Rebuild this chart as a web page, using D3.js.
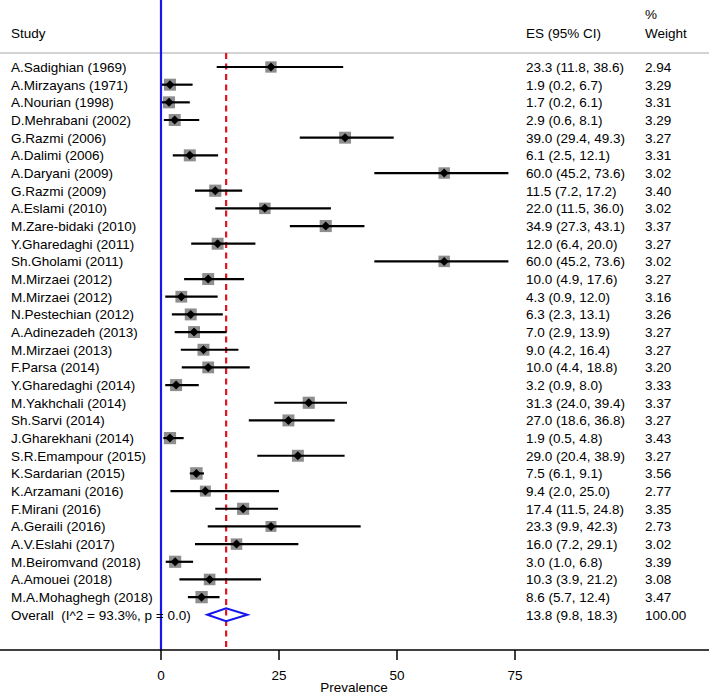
<!DOCTYPE html>
<html><head><meta charset="utf-8">
<script src="https://cdn.jsdelivr.net/npm/d3@7"></script>
<style>body{margin:0;background:#fff}svg{display:block}text{font-family:"Liberation Sans",Arial,sans-serif;font-size:13.5px;fill:#000}</style>
</head><body><svg id="c" width="709" height="695"></svg>
<script>
const studies = ["A.Sadighian (1969)","A.Mirzayans (1971)","A.Nourian (1998)","D.Mehrabani (2002)","G.Razmi (2006)","A.Dalimi (2006)","A.Daryani (2009)","G.Razmi (2009)","A.Eslami (2010)","M.Zare-bidaki (2010)","Y.Gharedaghi (2011)","Sh.Gholami (2011)","M.Mirzaei (2012)","M.Mirzaei (2012)","N.Pestechian (2012)","A.Adinezadeh (2013)","M.Mirzaei (2013)","F.Parsa (2014)","Y.Gharedaghi (2014)","M.Yakhchali (2014)","Sh.Sarvi (2014)","J.Gharekhani (2014)","S.R.Emampour (2015)","K.Sardarian (2015)","K.Arzamani (2016)","F.Mirani (2016)","A.Geraili (2016)","A.V.Eslahi (2017)","M.Beiromvand (2018)","A.Amouei (2018)","M.A.Mohaghegh (2018)"];
const es = [23.3,1.9,1.7,2.9,39.0,6.1,60.0,11.5,22.0,34.9,12.0,60.0,10.0,4.3,6.3,7.0,9.0,10.0,3.2,31.3,27.0,1.9,29.0,7.5,9.4,17.4,23.3,16.0,3.0,10.3,8.6];
const lo = [11.8,0.2,0.2,0.6,29.4,2.5,45.2,7.2,11.5,27.3,6.4,45.2,4.9,0.9,2.3,2.9,4.2,4.4,0.9,24.0,18.6,0.5,20.4,6.1,2.0,11.5,9.9,7.2,1.0,3.9,5.7];
const hi = [38.6,6.7,6.1,8.1,49.3,12.1,73.6,17.2,36.0,43.1,20.0,73.6,17.6,12.0,13.1,13.9,16.4,18.8,8.0,39.4,36.8,4.8,38.9,9.1,25.0,24.8,42.3,29.1,6.8,21.2,12.4];
const weights = ["2.94","3.29","3.31","3.29","3.27","3.31","3.02","3.40","3.02","3.37","3.27","3.02","3.27","3.16","3.26","3.27","3.27","3.20","3.33","3.37","3.27","3.43","3.27","3.56","2.77","3.35","2.73","3.02","3.39","3.08","3.47"];
const overallLabel = "Overall  (I^2 = 93.3%, p = 0.0)";
const overall = {es:13.8, lo:9.8, hi:18.3, w:"100.00"};
const xTicks = [0,25,50,75];

const svg = d3.select("#c");
const x = d3.scaleLinear().domain([0,75]).range([161,515]);
const y = d3.scaleLinear().domain([0,31]).range([67,614.8]);
const fmt = d3.format(".1f");

// header
svg.append("text").attr("x",11).attr("y",38).text("Study");
svg.append("text").attr("x",526).attr("y",38).text("ES (95% CI)");
svg.append("text").attr("x",645).attr("y",19).text("%");
svg.append("text").attr("x",645).attr("y",38).text("Weight");
svg.append("line").attr("x1",0).attr("x2",709).attr("y1",53).attr("y2",53).attr("stroke","#c4c4c4").attr("stroke-width",1.5);

// no-effect line
svg.append("line").attr("x1",x(0)).attr("x2",x(0)).attr("y1",0).attr("y2",650).attr("stroke","#1515ee").attr("stroke-width",2.2);
// overall dashed line
svg.append("line").attr("x1",x(overall.es)).attr("x2",x(overall.es)).attr("y1",53).attr("y2",650)
  .attr("stroke","#e0141e").attr("stroke-width",2.2).attr("stroke-dasharray","6,4.5");

const g = svg.append("g");
studies.forEach((s,i)=>{
  const yy = y(i);
  g.append("text").attr("x",11).attr("y",yy).attr("dy","0.36em").text(s);
  g.append("text").attr("x",526).attr("y",yy).attr("dy","0.36em").text(`${fmt(es[i])} (${fmt(lo[i])}, ${fmt(hi[i])})`);
  g.append("text").attr("x",645).attr("y",yy).attr("dy","0.36em").text(weights[i]);
  const side = 6.6*Math.sqrt(+weights[i]);
  g.append("rect").attr("x",x(es[i])-side/2).attr("y",yy-side/2).attr("width",side).attr("height",side).attr("fill","#8e8e8e");
  g.append("line").attr("x1",x(lo[i])).attr("x2",x(hi[i])).attr("y1",yy).attr("y2",yy).attr("stroke","#000").attr("stroke-width",2.2);
  const r=4.5, cx=x(es[i]);
  g.append("path").attr("d",`M${cx-r},${yy}L${cx},${yy-r}L${cx+r},${yy}L${cx},${yy+r}Z`).attr("fill","#000");
});
// overall
const oy = y(31);
svg.append("text").attr("x",11).attr("y",oy).attr("dy","0.36em").attr("xml:space","preserve").style("white-space","pre").text(overallLabel);
svg.append("text").attr("x",526).attr("y",oy).attr("dy","0.36em").text(`${fmt(overall.es)} (${fmt(overall.lo)}, ${fmt(overall.hi)})`);
svg.append("text").attr("x",645).attr("y",oy).attr("dy","0.36em").text(overall.w);
svg.append("path").attr("d",`M${x(overall.lo)},${oy}L${x(overall.es)},${oy-6.5}L${x(overall.hi)},${oy}L${x(overall.es)},${oy+6.5}Z`)
  .attr("fill","none").attr("stroke","#1515ee").attr("stroke-width",2);

// axis
svg.append("line").attr("x1",0).attr("x2",709).attr("y1",650).attr("y2",650).attr("stroke","#000").attr("stroke-width",1.5);
const ax = svg.append("g");
xTicks.forEach(t=>{
  ax.append("line").attr("x1",x(t)).attr("x2",x(t)).attr("y1",650).attr("y2",660).attr("stroke","#000").attr("stroke-width",1.5);
  ax.append("text").attr("x",x(t)).attr("y",675).attr("dy","0.36em").attr("text-anchor","middle").text(t);
});
svg.append("text").attr("x",354).attr("y",692).attr("text-anchor","middle").text("Prevalence");
</script></body></html>
